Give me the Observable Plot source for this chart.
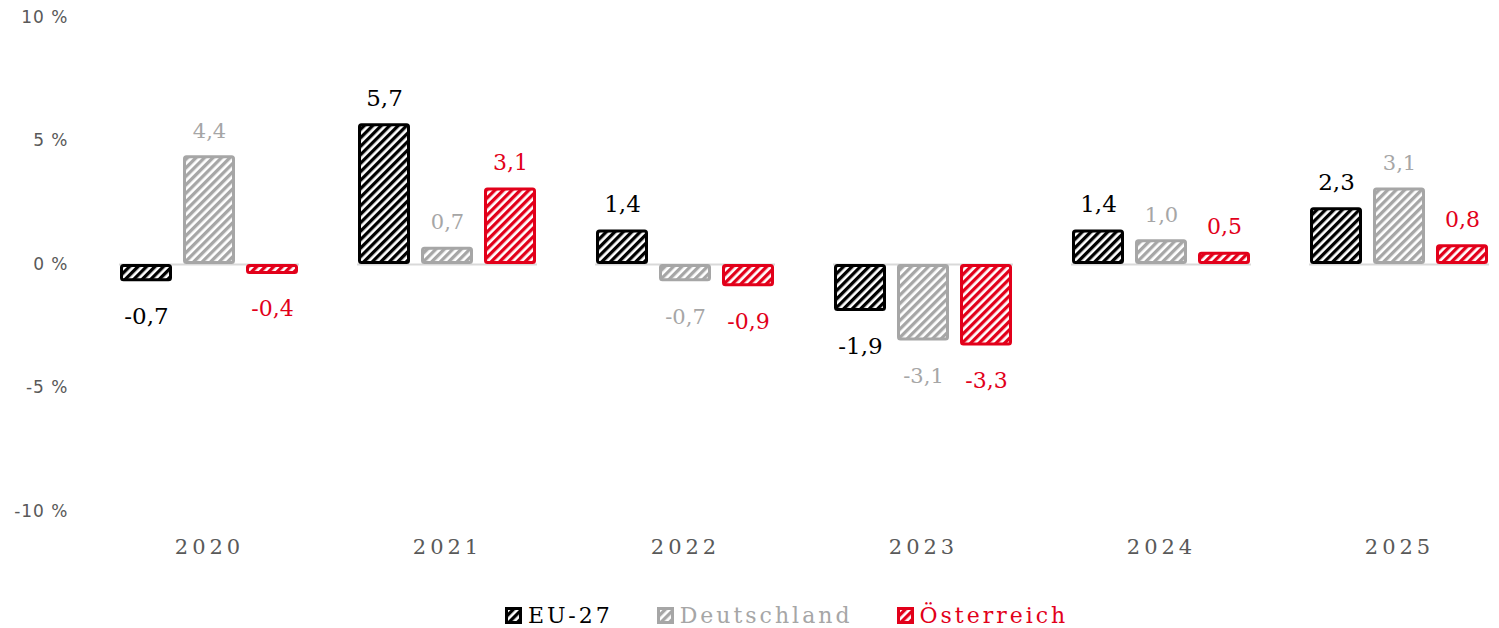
<!DOCTYPE html>
<html>
<head>
<meta charset="utf-8">
<script src="https://cdn.jsdelivr.net/npm/d3@7"></script>
<script src="https://cdn.jsdelivr.net/npm/@observablehq/plot@0.6"></script>
<style>
  html, body { margin: 0; padding: 0; background: #fff; overflow: hidden; width: 1499px; }
  #chart { width: 1518px; }
  #chart svg { display: block; max-width: none !important; }
  #legend { height: 34px; display: flex; align-items: center; padding-left: 505px; font-family: "DejaVu Serif", serif; font-size: 22px; letter-spacing: 3px; }
  .li { display: flex; align-items: center; margin-right: 44px; }
  .li svg { margin-right: 6px; }
</style>
</head>
<body>
<div id="chart"></div>
<div id="legend"></div>
<script>
const years = ["2020", "2021", "2022", "2023", "2024", "2025"];
const series = ["EU-27", "Deutschland", "Österreich"];
const euValues = [-0.7, 5.7, 1.4, -1.9, 1.4, 2.3];
const deValues = [4.4, 0.7, -0.7, -3.1, 1.0, 3.1];
const atValues = [-0.4, 3.1, -0.9, -3.3, 0.5, 0.8];
const yTicks = [-10, -5, 0, 5, 10];

const colors = {"EU-27": "#000000", "Deutschland": "#a6a6a6", "Österreich": "#e2001a"};
const patIds = {"EU-27": "pEU", "Deutschland": "pDE", "Österreich": "pAT"};
const labelSize = {"EU-27": 23, "Deutschland": 21, "Österreich": 22};

const valuesBySeries = {"EU-27": euValues, "Deutschland": deValues, "Österreich": atValues};
const data = [];
for (const s of series) years.forEach((y, i) => data.push({year: y, series: s, value: valuesBySeries[s][i]}));

const fmt = v => v.toFixed(1).replace(".", ",");

const marks = [Plot.ruleY([0], {stroke: "#d9d9d9", strokeWidth: 2})];
for (const s of series) {
  const sd = data.filter(d => d.series === s);
  marks.push(Plot.barY(sd, {fx: "year", x: "series", y: "value", fill: `url(#${patIds[s]})`, stroke: colors[s], strokeWidth: 3, rx: 2, inset: 1.5}));
  marks.push(Plot.text(sd.filter(d => d.value >= 0), {fx: "year", x: "series", y: "value", text: d => fmt(d.value), dy: -25, fill: colors[s], fontSize: labelSize[s], fontFamily: "DejaVu Serif"}));
  marks.push(Plot.text(sd.filter(d => d.value < 0), {fx: "year", x: "series", y: "value", text: d => fmt(d.value), dy: 35, fill: colors[s], fontSize: labelSize[s], fontFamily: "DejaVu Serif"}));
}

const chart = Plot.plot({
  width: 1518,
  height: 598,
  marginLeft: 90,
  marginRight: 0,
  marginTop: 17,
  marginBottom: 87,
  style: {fontFamily: "DejaVu Serif", background: "#fff", overflow: "visible", maxWidth: "none"},
  fx: {domain: years, paddingInner: 0.244, paddingOuter: 0.122, label: null, tickSize: 0, tickPadding: 28},
  x: {domain: series, paddingInner: 0.175, paddingOuter: 0, axis: null},
  y: {domain: [-10, 10], ticks: yTicks, tickFormat: d => `${d} %`, label: null, tickSize: 0, tickPadding: 51},
  marks
});

// pattern definitions
const svg = d3.select(chart.tagName.toLowerCase() === "svg" ? chart : chart.querySelector("svg"));
svg.style("max-width", "none");
const defs = svg.insert("defs", ":first-child");
for (const s of series) {
  const p = defs.append("pattern").attr("id", patIds[s]).attr("patternUnits", "userSpaceOnUse")
    .attr("width", 6).attr("height", 6).attr("patternTransform", "rotate(45)");
  p.append("rect").attr("width", 6).attr("height", 6).attr("fill", "#fff");
  p.append("rect").attr("width", 3.3).attr("height", 6).attr("fill", colors[s]);
}

// axis styling
svg.selectAll('g[aria-label^="y-axis"] text').attr("font-family", "DejaVu Sans").attr("font-size", 17).attr("fill", "#595959").attr("letter-spacing", "1px");
svg.selectAll('g[aria-label^="fx-axis"] text').attr("font-family", "DejaVu Serif").attr("font-size", 21).attr("fill", "#595959").attr("letter-spacing", "4px");

document.getElementById("chart").appendChild(chart);

// legend
const legend = d3.select("#legend");
for (const s of series) {
  const item = legend.append("div").attr("class", "li");
  const isvg = item.append("svg").attr("width", 17).attr("height", 17);
  const pid = "L" + patIds[s];
  const p = isvg.append("defs").append("pattern").attr("id", pid).attr("patternUnits", "userSpaceOnUse")
    .attr("width", 6).attr("height", 6).attr("patternTransform", "rotate(45)");
  p.append("rect").attr("width", 6).attr("height", 6).attr("fill", "#fff");
  p.append("rect").attr("width", 3.3).attr("height", 6).attr("fill", colors[s]);
  isvg.append("rect").attr("x", 1.5).attr("y", 1.5).attr("width", 14).attr("height", 14).attr("fill", `url(#${pid})`).attr("stroke", colors[s]).attr("stroke-width", 3);
  item.append("span").text(s).style("color", colors[s]);
}
</script>
</body>
</html>
